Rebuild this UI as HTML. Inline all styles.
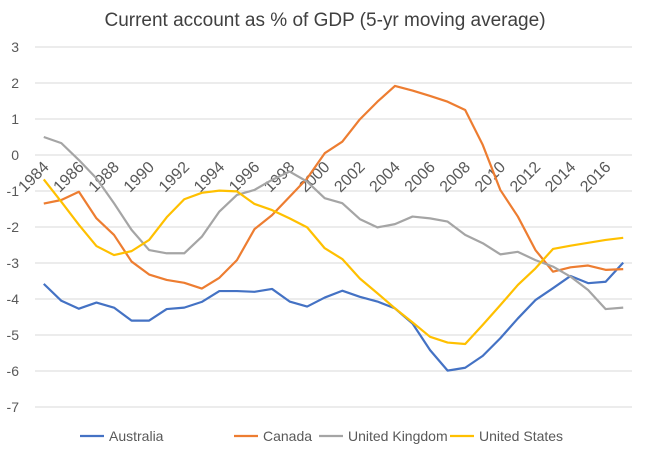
<!DOCTYPE html>
<html><head><meta charset="utf-8"><style>
body{margin:0;background:#fff;}
svg{display:block;font-family:"Liberation Sans",sans-serif;}
</style></head><body>
<svg id="chart" width="649" height="456">
<text x="325" y="26" text-anchor="middle" font-size="19" fill="#404040">Current account as % of GDP (5-yr moving average)</text>
<g id="grid"></g><g id="xlabels"></g><g id="series"></g><g id="legend"></g>
</svg>
<script>
const years=[1984,1985,1986,1987,1988,1989,1990,1991,1992,1993,1994,1995,1996,1997,1998,1999,2000,2001,2002,2003,2004,2005,2006,2007,2008,2009,2010,2011,2012,2013,2014,2015,2016,2017];
const australia=[-3.58,-4.05,-4.27,-4.1,-4.24,-4.6,-4.6,-4.28,-4.24,-4.08,-3.78,-3.78,-3.8,-3.72,-4.07,-4.21,-3.96,-3.77,-3.94,-4.07,-4.26,-4.68,-5.42,-5.99,-5.91,-5.58,-5.09,-4.54,-4.03,-3.7,-3.36,-3.56,-3.52,-2.99];
const canada=[-1.35,-1.25,-1.02,-1.76,-2.22,-2.96,-3.32,-3.47,-3.55,-3.71,-3.41,-2.92,-2.06,-1.67,-1.16,-0.65,0.05,0.37,0.99,1.48,1.92,1.79,1.64,1.48,1.25,0.28,-0.97,-1.71,-2.64,-3.24,-3.12,-3.07,-3.19,-3.17];
const uk=[0.5,0.33,-0.14,-0.65,-1.34,-2.08,-2.64,-2.73,-2.73,-2.27,-1.57,-1.11,-0.97,-0.69,-0.46,-0.74,-1.2,-1.34,-1.78,-2.01,-1.92,-1.71,-1.76,-1.85,-2.22,-2.45,-2.76,-2.69,-2.92,-3.1,-3.38,-3.75,-4.28,-4.24];
const us=[-0.68,-1.3,-1.94,-2.53,-2.78,-2.67,-2.36,-1.73,-1.23,-1.05,-0.99,-1.01,-1.36,-1.53,-1.76,-2.01,-2.59,-2.89,-3.43,-3.84,-4.26,-4.65,-5.05,-5.21,-5.25,-4.72,-4.17,-3.61,-3.15,-2.61,-2.52,-2.44,-2.36,-2.3];
const yTicks=[3,2,1,0,-1,-2,-3,-4,-5,-6,-7];
const seriesNames=["Australia","Canada","United Kingdom","United States"];
const colors=["#4472c4","#ed7d31","#a5a5a5","#ffc000"];
const NS="http://www.w3.org/2000/svg";
const x0=35,x1=632,yZero=155,pxPerUnit=36;
const step=(x1-x0)/years.length;
function xs(i){return x0+step*(i+0.5);}
function ys(v){return yZero-v*pxPerUnit;}
function mk(tag,attrs,parent){const e=document.createElementNS(NS,tag);for(const k in attrs)e.setAttribute(k,attrs[k]);parent.appendChild(e);return e;}
const grid=document.getElementById('grid');
yTicks.forEach(t=>{
  const l=mk('line',{x1:x0,x2:x1,y1:ys(t),y2:ys(t),stroke:'#d9d9d9','stroke-width':1},grid);
  
  
  const tx=mk('text',{x:19,y:ys(t)+5,'text-anchor':'end','font-size':14,fill:'#595959'},grid);
  tx.textContent=t;
  
  
});
const xl=document.getElementById('xlabels');
years.forEach((yr,i)=>{
  if(yr%2!==0)return;
  const x=xs(i)+6,y=168;
  const tx=mk('text',{x:x,y:y,'text-anchor':'end','font-size':16,fill:'#595959',transform:`rotate(-45 ${x} ${y})`},xl);
  tx.textContent=yr;
  
  
});
const sg=document.getElementById('series');
[australia,canada,uk,us].forEach((arr,si)=>{
  const p=mk('polyline',{points:arr.map((v,i)=>xs(i)+','+ys(v)).join(' '),fill:'none',stroke:colors[si],'stroke-width':2.2,'stroke-linejoin':'round'},sg);
  
  
});
const lg=document.getElementById('legend');
const lx=[80,234,319,450];
seriesNames.forEach((n,i)=>{
  const l=mk('line',{x1:lx[i],x2:lx[i]+24,y1:436,y2:436,stroke:colors[i],'stroke-width':2.2},lg);
  
  
  const t=mk('text',{x:lx[i]+29,y:441,'font-size':14,fill:'#595959'},lg);
  t.textContent=n;
  
  
});
</script>
</body></html>
